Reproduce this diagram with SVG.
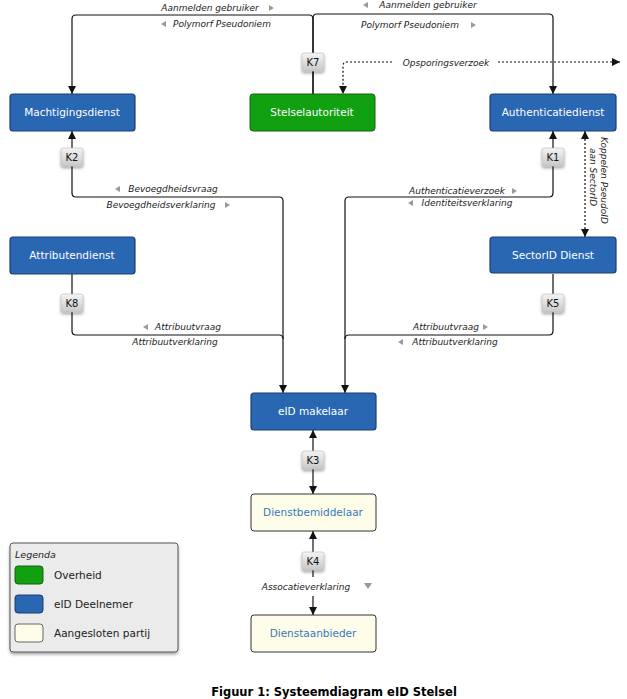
<svg xmlns="http://www.w3.org/2000/svg" width="627" height="699" viewBox="0 0 627 699">
<style>
.n{stroke:#1c3f6e;stroke-width:1.2}
.b{fill:#2a67b3}.g{fill:#10a010;stroke:#186018}.c{fill:#fdfdea;stroke:#333}
.t{font-family:"DejaVu Sans",Verdana,sans-serif;font-size:10.5px;text-anchor:middle}
.w{fill:#fff}.bt{fill:#3a78b8}
.l{font-family:"DejaVu Sans",Verdana,sans-serif;font-size:9px;font-style:italic;fill:#222;text-anchor:middle}
.line{fill:none;stroke:#111;stroke-width:1.2}
.dot{fill:none;stroke:#111;stroke-width:1.2;stroke-dasharray:2 2}
.k{fill:url(#kg);stroke:#bbb;stroke-width:0.6}
.kt{font-family:"DejaVu Sans",Verdana,sans-serif;font-size:10px;text-anchor:middle;fill:#111}
.ar{fill:#999}
</style>
<defs>
<marker id="a" viewBox="0 0 10 10" refX="10" refY="5" markerWidth="7" markerHeight="7" orient="auto-start-reverse"><path d="M0,0L10,5L0,10z" fill="#111"/></marker>
<linearGradient id="kg" x1="0" y1="0" x2="0" y2="1"><stop offset="0" stop-color="#f4f4f4"/><stop offset="1" stop-color="#c8c8c8"/></linearGradient>
<filter id="sh" x="-30%" y="-30%" width="160%" height="170%"><feDropShadow dx="0" dy="2" stdDeviation="1.5" flood-color="#000" flood-opacity="0.35"/></filter>
</defs>
<g id="connectors">
<path class="line" d="M313,94V19Q313,15 309,15H76Q72,15 72,19V94" marker-end="url(#a)"/>
<path class="line" d="M313,94V18Q313,14 317,14H549Q553,14 553,18V94" marker-end="url(#a)"/>
<path class="dot" d="M620,62H347Q343,62 343,66V94" marker-start="url(#a)" marker-end="url(#a)"/>
<path class="line" d="M72,131V193Q72,197 76,197H279Q283,197 283,201V393" marker-start="url(#a)" marker-end="url(#a)"/>
<path class="line" d="M553,131V193Q553,197 549,197H349Q345,197 345,201V393" marker-start="url(#a)" marker-end="url(#a)"/>
<path class="line" d="M72,274V331Q72,335 76,335H279Q283,335 283,339"/>
<path class="line" d="M553,274V331Q553,335 549,335H349Q345,335 345,339"/>
<path class="dot" d="M585,131V237" marker-start="url(#a)" marker-end="url(#a)"/>
<path class="line" d="M313,430V494" marker-start="url(#a)" marker-end="url(#a)"/>
<path class="line" d="M313,531V577" marker-start="url(#a)"/>
<path class="line" d="M313,596V615" marker-end="url(#a)"/>
<g class="l">
<text x="210" y="11">Aanmelden gebruiker</text><path class="ar" d="M269,5l5,3l-5,3z"/>
<text x="222" y="27">Polymorf Pseudoniem</text><path class="ar" d="M166,21l-5,3l5,3z"/>
<text x="428" y="8">Aanmelden gebruiker</text><path class="ar" d="M368,2l-5,3l5,3z"/>
<text x="410" y="28">Polymorf Pseudoniem</text><path class="ar" d="M471,22l5,3l-5,3z"/>
<rect x="394" y="56" width="104" height="12" fill="#fff"/>
<text x="446" y="66">Opsporingsverzoek</text>
<text x="173" y="192">Bevoegdheidsvraag</text><path class="ar" d="M120,186l-5,3l5,3z"/>
<text x="161" y="208">Bevoegdheidsverklaring</text><path class="ar" d="M225,202l5,3l-5,3z"/>
<text x="457" y="194">Authenticatieverzoek</text><path class="ar" d="M512,188l5,3l-5,3z"/>
<text x="467" y="206">Identiteitsverklaring</text><path class="ar" d="M413,200l-5,3l5,3z"/>
<text x="188" y="330">Attribuutvraag</text><path class="ar" d="M148,324l-5,3l5,3z"/>
<text x="175" y="345">Attribuutverklaring</text>
<text x="446" y="330">Attribuutvraag</text><path class="ar" d="M483,324l5,3l-5,3z"/>
<text x="455" y="345">Attribuutverklaring</text><path class="ar" d="M403,339l-5,3l5,3z"/>
<text x="306" y="590">Assocatieverklaring</text><path class="ar" d="M364,583h8l-4,6z"/>
<text transform="translate(601,137) rotate(90)" text-anchor="start">Koppelen PseudoID</text>
<text transform="translate(590,148) rotate(90)" text-anchor="start">aan SectorID</text>
</g>
<g filter="url(#sh)">
<rect class="k" x="302" y="53" width="22" height="18" rx="2"/>
<rect class="k" x="61" y="148" width="22" height="18" rx="2"/>
<rect class="k" x="542" y="148" width="22" height="18" rx="2"/>
<rect class="k" x="61" y="294" width="22" height="18" rx="2"/>
<rect class="k" x="542" y="294" width="22" height="18" rx="2"/>
<rect class="k" x="302" y="451" width="22" height="18" rx="2"/>
<rect class="k" x="302" y="552" width="22" height="18" rx="2"/>
</g>
<text class="kt" x="313" y="66">K7</text>
<text class="kt" x="72" y="161">K2</text>
<text class="kt" x="553" y="161">K1</text>
<text class="kt" x="72" y="307">K8</text>
<text class="kt" x="553" y="307">K5</text>
<text class="kt" x="313" y="464">K3</text>
<text class="kt" x="313" y="565">K4</text>
</g>
<g id="machtigingsdienst"><rect class="n b" x="10" y="94" width="125" height="37" rx="3"/><text class="t w" x="72" y="116">Machtigingsdienst</text></g>
<g id="stelselautoriteit"><rect class="g" x="250" y="94" width="125" height="37" rx="3"/><text class="t w" x="312" y="116">Stelselautoriteit</text></g>
<g id="authenticatiedienst"><rect class="n b" x="490" y="94" width="126" height="37" rx="3"/><text class="t w" x="553" y="116">Authenticatiedienst</text></g>
<g id="attributendienst"><rect class="n b" x="10" y="237" width="125" height="37" rx="3"/><text class="t w" x="72" y="259">Attributendienst</text></g>
<g id="sectorid"><rect class="n b" x="490" y="237" width="126" height="36" rx="3"/><text class="t w" x="553" y="259">SectorID Dienst</text></g>
<g id="makelaar"><rect class="n b" x="251" y="393" width="125" height="37" rx="3"/><text class="t w" x="313" y="415">eID makelaar</text></g>
<g id="dienstbemiddelaar"><rect class="c" x="251" y="494" width="125" height="37" rx="3"/><text class="t bt" x="313" y="516">Dienstbemiddelaar</text></g>
<g id="dienstaanbieder"><rect class="c" x="251" y="615" width="125" height="37" rx="3"/><text class="t bt" x="313" y="637">Dienstaanbieder</text></g>
<g id="legenda">
<rect x="10" y="543" width="168" height="109" rx="3" fill="#ebebeb" stroke="#555" filter="url(#sh)"/>
<text x="15" y="558" font-family="DejaVu Sans,Verdana,sans-serif" font-size="9.5" font-style="italic" fill="#222">Legenda</text>
<rect x="15" y="566" width="28" height="18" rx="3" fill="#10a010" stroke="#186018"/>
<rect x="15" y="595" width="28" height="18" rx="3" fill="#2a67b3" stroke="#1c3f6e"/>
<rect x="15" y="624" width="28" height="18" rx="3" fill="#fdfdea" stroke="#666"/>
<g font-family="DejaVu Sans,Verdana,sans-serif" font-size="10.5" fill="#222">
<text x="54" y="579">Overheid</text><text x="54" y="608">eID Deelnemer</text><text x="54" y="637">Aangesloten partij</text>
</g>
</g>
<text x="334" y="696" font-family="DejaVu Sans,Verdana,sans-serif" font-size="11.5" font-weight="bold" text-anchor="middle" fill="#000">Figuur 1: Systeemdiagram eID Stelsel</text>
</svg>
